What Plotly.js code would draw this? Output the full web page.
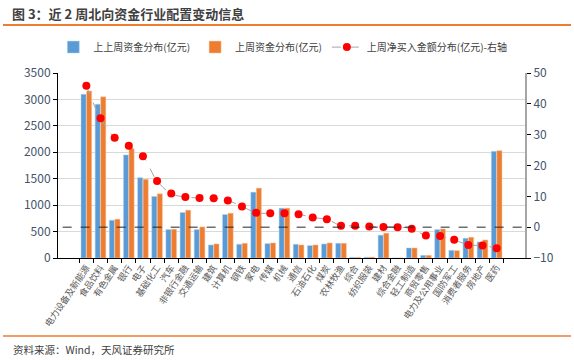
<!DOCTYPE html>
<html>
<head>
<meta charset="utf-8">
<script src="https://cdn.plot.ly/plotly-3.0.1.min.js"></script>
<style>html,body{margin:0;padding:0;background:#fff;}#chart{width:574px;height:360px;}</style>
</head>
<body>
<div id="chart"></div>
<script>
const categories = ["电力设备及新能源","食品饮料","有色金属","银行","电子","基础化工","汽车","非银行金融","交通运输","建筑","计算机","钢铁","家电","传媒","机械","通信","石油石化","煤炭","农林牧渔","综合","纺织服装","建材","综合金融","轻工制造","商贸零售","电力及公用事业","国防军工","消费者服务","房地产","医药"];
const twoWeeksAgo = [3100, 2910, 715, 1950, 1520, 1165, 539, 861, 539, 247, 823, 260, 1246, 273, 943, 260, 235, 266, 279, 13, 15, 432, 0, 190, 51, 539, 146, 374, 304, 2019];
const lastWeek = [3160, 3050, 735, 2070, 1490, 1215, 545, 905, 588, 266, 848, 279, 1322, 285, 943, 247, 247, 285, 279, 13, 18, 470, 0, 190, 51, 550, 140, 393, 342, 2031];
const netBuy = [45.9, 35.3, 29.0, 26.4, 23.0, 15.0, 10.9, 9.75, 9.5, 9.4, 8.65, 6.7, 4.7, 4.5, 4.5, 4.2, 3.1, 2.55, 0.5, 0.5, 0.2, 0.05, 0, -0.5, -2.7, -2.9, -4.1, -5.75, -5.96, -6.8];
const seriesNames = ["上上周资金分布(亿元)", "上周资金分布(亿元)", "上周净买入金额分布(亿元)-右轴"];

const FONT = "'Noto Sans CJK SC', 'Noto Sans', sans-serif";

const traces = [
  {type: 'bar', name: seriesNames[0], x: categories, y: twoWeeksAgo,
   marker: {color: '#5B9BD5', line: {color: '#BDD7EE', width: 0.5}}},
  {type: 'bar', name: seriesNames[1], x: categories, y: lastWeek,
   marker: {color: '#ED7D31', line: {color: '#F8CBAD', width: 0.5}}},
  {type: 'scatter', mode: 'lines+markers', name: seriesNames[2], x: categories, y: netBuy, yaxis: 'y2',
   line: {color: '#A5A5A5', dash: 'dash', width: 1, shape: 'spline'},
   marker: {color: '#FF0000', size: 8}}
];

const layout = {
  width: 574, height: 360,
  margin: {l: 58, r: 49, t: 73, b: 102},
  paper_bgcolor: '#fff', plot_bgcolor: '#fff',
  font: {family: FONT, size: 11, color: '#595959'},
  barmode: 'group', bargap: 0.22, bargroupgap: 0.06,
  showlegend: true,
  legend: {orientation: 'h', x: -0.01, y: 1.14, xanchor: 'left', yanchor: 'middle',
           font: {size: 10, color: '#404040'},
           traceorder: 'normal', bgcolor: 'rgba(0,0,0,0)'},
  xaxis: {type: 'category', tickangle: -56, tickson: 'boundaries', ticks: 'outside', ticklen: 4,
          tickcolor: '#000', showline: true, linecolor: '#000', linewidth: 1,
          tickfont: {size: 9, color: '#595959'}, showgrid: false, automargin: false},
  yaxis: {range: [0, 3500], dtick: 500, showgrid: true, gridcolor: '#D9D9D9', gridwidth: 1,
          showline: true, linecolor: '#000', linewidth: 1, ticks: 'outside', ticklen: 4, tickcolor: '#000',
          tickfont: {size: 12, color: '#44546A'}, zeroline: false, automargin: false},
  yaxis2: {overlaying: 'y', side: 'right', range: [-10, 50], dtick: 10, showgrid: false,
           showline: true, linecolor: '#A6A6A6', linewidth: 2, ticks: 'outside', ticklen: 4, tickcolor: '#000',
           tickfont: {size: 12, color: '#44546A'}, zeroline: false, automargin: false},
  shapes: [
    {type: 'line', xref: 'paper', x0: 0.01, x1: 1, yref: 'y2', y0: 0, y1: 0,
     line: {color: '#262626', width: 1, dash: 'dash'}},
    {type: 'line', xref: 'paper', x0: -0.1178, x1: 1.0985, yref: 'paper', y0: 1.2595, y1: 1.2595,
     line: {color: '#ED7D31', width: 2}},
    {type: 'line', xref: 'paper', x0: -0.1178, x1: 1.0985, yref: 'paper', y0: -0.4216, y1: -0.4216,
     line: {color: '#ED7D31', width: 1.5}}
  ],
  annotations: [
    {text: '<b>图 3：近 2 周北向资金行业配置变动信息</b>', xref: 'paper', yref: 'paper',
     x: -0.103, y: 1.319, xanchor: 'left', yanchor: 'middle', showarrow: false,
     font: {size: 13, color: '#404040', family: FONT}},
    {text: '资料来源：Wind，天风证券研究所', xref: 'paper', yref: 'paper',
     x: -0.1, y: -0.497, xanchor: 'left', yanchor: 'middle', showarrow: false,
     font: {size: 10.5, color: '#404040', family: FONT}}
  ]
};

Plotly.newPlot('chart', traces, layout, {displayModeBar: false, staticPlot: true});
</script>
</body>
</html>
